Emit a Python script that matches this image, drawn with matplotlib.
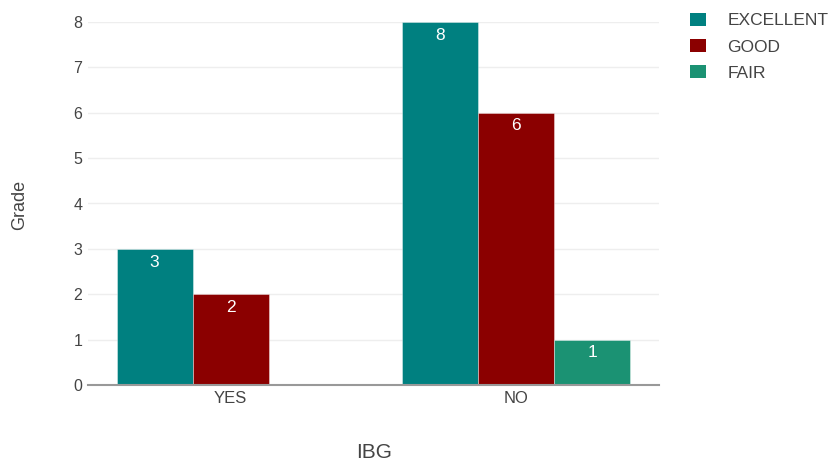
import numpy as np
import matplotlib
matplotlib.use("Agg")
import matplotlib.pyplot as plt
from matplotlib.patches import Patch

plt.rcParams['font.family'] = ['Liberation Sans', 'DejaVu Sans']

categories = ["YES", "NO"]
series_names = ["EXCELLENT", "GOOD", "FAIR"]
excellent = [3, 8]
good = [2, 6]
fair = [None, 1]
colors = ["#008080", "#8B0000", "#1b9273"]
y_ticks = [0, 1, 2, 3, 4, 5, 6, 7, 8]

text_color = "#444444"

fig = plt.figure(figsize=(8.38, 4.61), dpi=100)
ax = fig.add_axes([88 / 838, 1 - 385 / 461, (659 - 88) / 838, (385 - 22) / 461])

x = np.arange(len(categories))
width = 0.8 / 3
series = [excellent, good, fair]
for i, (name, vals, col) in enumerate(zip(series_names, series, colors)):
    for xi, v in zip(x, vals):
        if v is None:
            continue
        xpos = xi + (i - 1) * width
        ax.bar(xpos, v, width=width, color=col, edgecolor=(1, 1, 1, 0.45),
               linewidth=0.6, zorder=3)
        ax.annotate(str(v), xy=(xpos, v), xytext=(0, -9.5),
                    textcoords="offset points", ha="center", va="center",
                    color="white", fontsize=12.5, zorder=4)

ax.set_xlim(-0.5, 1.5)
ax.set_ylim(0, 8)
ax.set_xticks(x)
ax.set_xticklabels(categories)
ax.set_yticks(y_ticks)
ax.tick_params(axis="both", length=0, colors=text_color)
ax.tick_params(axis="x", pad=4, labelsize=12)
ax.tick_params(axis="y", pad=4, labelsize=11.5)
ax.grid(axis="y", color="#eeeeee", linewidth=1, zorder=0)
ax.set_axisbelow(True)
for side in ["top", "right", "left"]:
    ax.spines[side].set_visible(False)
ax.spines["bottom"].set_color("#999999")
ax.spines["bottom"].set_linewidth(1.5)
ax.spines["bottom"].set_zorder(5)

fig.text(374 / 838, 1 - 452 / 461, "IBG", ha="center", va="center",
         fontsize=15, color=text_color)
fig.text(20 / 838, 1 - 205 / 461, "Grade", ha="center", va="center",
         rotation=90, fontsize=13, color=text_color)

handles = [Patch(facecolor=c, edgecolor="none") for c in colors]
fig.legend(handles, series_names, loc="upper left",
           bbox_to_anchor=(690 / 838, 1 - 13 / 461), frameon=False,
           fontsize=12.5, labelcolor=text_color, handlelength=0.95,
           handleheight=0.75, handletextpad=1.2, labelspacing=0.62,
           borderaxespad=0, borderpad=0)

fig.savefig("out.png", dpi=100)
